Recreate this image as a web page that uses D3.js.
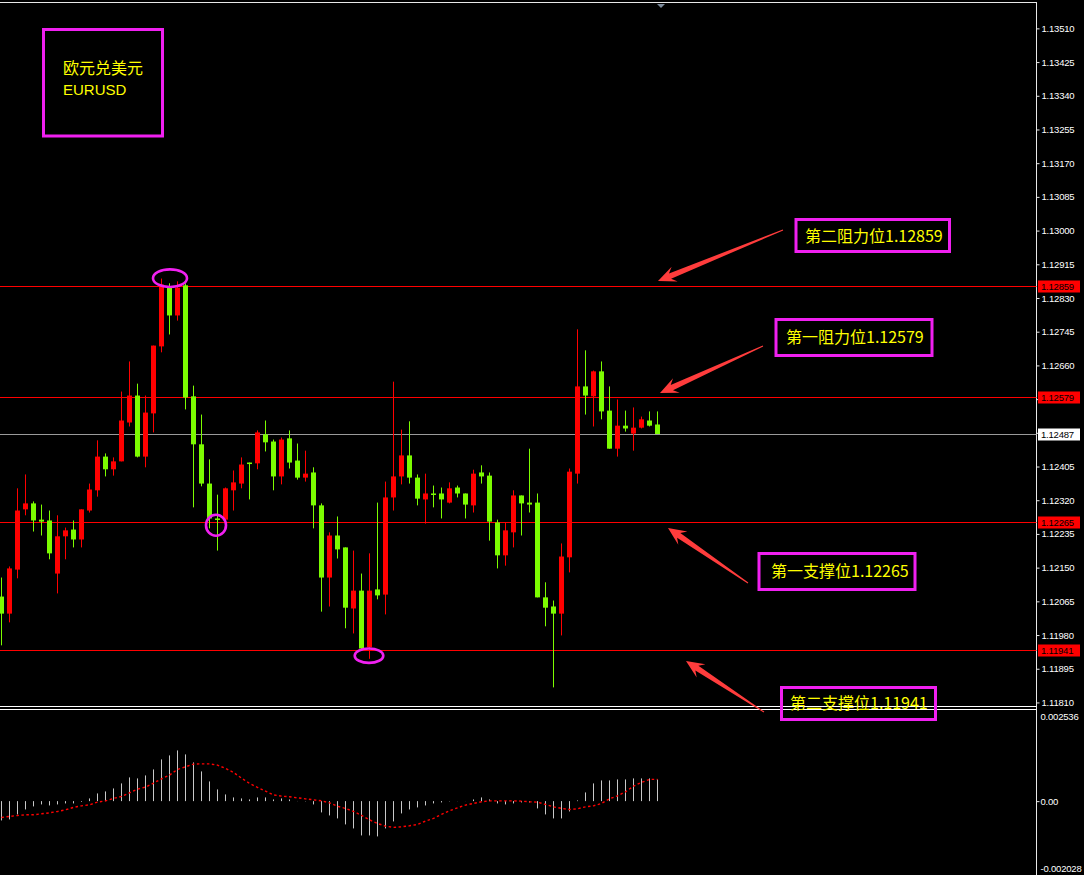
<!DOCTYPE html>
<html>
<head>
<meta charset="utf-8">
<title>EURUSD</title>
<script src="https://cdn.jsdelivr.net/npm/d3@7"></script>
<style>
  html, body { margin: 0; padding: 0; background: #000; }
  svg { display: block; }
</style>
</head>
<body>
<svg id="chart" width="1084" height="875"></svg>
<script>
// ---- EURUSD candles (oldest to newest) ----
const opens = [1.12077,1.12034,1.12145,1.12297,1.12312,1.12271,1.12269,1.12135,1.12229,1.12246,
1.12221,1.12294,1.12345,1.12430,1.12398,1.12418,1.12516,1.12584,1.12430,1.12539,
1.12708,1.12859,1.12786,1.12862,1.12582,1.12461,1.12362,1.12274,1.12271,1.12345,
1.12362,1.12415,1.12413,1.12486,1.12468,1.12380,1.12476,1.12420,1.12377,1.12390,
1.12307,1.12125,1.12231,1.12201,1.12047,1.12092,1.11949,1.12095,1.12082,1.12327,
1.12380,1.12433,1.12377,1.12322,1.12337,1.12337,1.12314,1.12352,1.12337,1.12307,
1.12390,1.12382,1.12264,1.12181,1.12239,1.12332,1.12314,1.12314,1.12075,1.12052,
1.12034,1.12176,1.12387,1.12607,1.12582,1.12645,1.12546,1.12450,1.12508,1.12488,
1.12503,1.12521,1.12511];

const highs = [1.12125,1.12153,1.12350,1.12385,1.12317,1.12309,1.12294,1.12282,1.12251,1.12269,
1.12297,1.12362,1.12471,1.12438,1.12428,1.12594,1.12670,1.12614,1.12584,1.12710,
1.12879,1.12867,1.12872,1.12867,1.12609,1.12536,1.12423,1.12334,1.12352,1.12395,
1.12428,1.12415,1.12496,1.12521,1.12473,1.12478,1.12496,1.12463,1.12445,1.12403,
1.12312,1.12239,1.12279,1.12201,1.12193,1.12135,1.12186,1.12314,1.12367,1.12619,
1.12498,1.12519,1.12385,1.12387,1.12357,1.12352,1.12365,1.12357,1.12337,1.12397,
1.12408,1.12390,1.12271,1.12264,1.12345,1.12332,1.12450,1.12337,1.12113,1.12067,
1.12211,1.12400,1.12751,1.12698,1.12647,1.12670,1.12607,1.12574,1.12546,1.12554,
1.12531,1.12544,1.12544];

const lows = [1.11954,1.12012,1.12123,1.12282,1.12241,1.12231,1.12171,1.12085,1.12171,1.12201,
1.12201,1.12289,1.12329,1.12380,1.12382,1.12418,1.12506,1.12428,1.12403,1.12491,
1.12693,1.12738,1.12773,1.12549,1.12302,1.12355,1.12249,1.12193,1.12269,1.12294,
1.12350,1.12322,1.12398,1.12443,1.12345,1.12360,1.12400,1.12372,1.12367,1.12249,
1.12039,1.12052,1.12173,1.11997,1.11984,1.11941,1.11920,1.12070,1.12032,1.12294,
1.12360,1.12362,1.12307,1.12261,1.12302,1.12274,1.12312,1.12327,1.12274,1.12289,
1.12362,1.12218,1.12148,1.12155,1.12201,1.12231,1.12289,1.12075,1.12002,1.11848,
1.11979,1.12138,1.12362,1.12536,1.12506,1.12524,1.12450,1.12430,1.12493,1.12445,
1.12501,1.12506,1.12487];

const closes = [1.12034,1.12148,1.12294,1.12312,1.12269,1.12266,1.12186,1.12229,1.12244,1.12221,
1.12297,1.12347,1.12430,1.12398,1.12418,1.12521,1.12584,1.12430,1.12541,1.12710,
1.12864,1.12786,1.12856,1.12579,1.12461,1.12362,1.12274,1.12271,1.12350,1.12365,
1.12410,1.12413,1.12491,1.12466,1.12380,1.12473,1.12415,1.12377,1.12387,1.12307,
1.12125,1.12231,1.12196,1.12049,1.12092,1.11946,1.12092,1.12080,1.12327,1.12380,
1.12433,1.12377,1.12324,1.12337,1.12334,1.12322,1.12350,1.12337,1.12309,1.12387,
1.12380,1.12266,1.12181,1.12244,1.12332,1.12312,1.12309,1.12075,1.12049,1.12034,
1.12178,1.12392,1.12607,1.12584,1.12645,1.12544,1.12450,1.12508,1.12501,1.12503,
1.12524,1.12508,1.12487];

// ---- MACD sub-window ----
const macdHist = [-0.000537,-0.000509,-0.000370,-0.000231,-0.000147,-0.000092,-0.000120,-0.000092,-0.000064,-0.000064,
-0.000019,0.000075,0.000214,0.000270,0.000353,0.000493,0.000660,0.000632,0.000715,0.000882,
0.001161,0.001272,0.001411,0.001300,0.001077,0.000827,0.000548,0.000326,0.000186,0.000103,
0.000075,0.000047,0.000103,0.000103,0.000047,0.000075,0.000047,0.000004,-0.000008,-0.000092,
-0.000314,-0.000398,-0.000481,-0.000648,-0.000760,-0.000955,-0.000955,-0.000982,-0.000760,-0.000565,
-0.000342,-0.000231,-0.000175,-0.000120,-0.000064,-0.000036,-0.000008,0.000003,0.000002,0.000047,
0.000103,0.000047,-0.000064,-0.000092,-0.000064,-0.000036,-0.000036,-0.000203,-0.000370,-0.000481,
-0.000481,-0.000287,0.000019,0.000242,0.000493,0.000576,0.000576,0.000604,0.000604,0.000632,
0.000632,0.000632,0.000604];

const macdSignal = [-0.000454,-0.000426,-0.000398,-0.000381,-0.000381,-0.000353,-0.000326,-0.000287,-0.000242,-0.000175,
-0.000131,-0.000103,-0.000028,0.000008,0.000075,0.000131,0.000231,0.000334,0.000390,0.000501,
0.000621,0.000724,0.000882,0.000955,0.001030,0.001038,0.001038,0.001002,0.000910,0.000799,
0.000640,0.000493,0.000381,0.000278,0.000175,0.000139,0.000120,0.000092,0.000064,0.000036,
0.000008,-0.000047,-0.000145,-0.000203,-0.000287,-0.000398,-0.000520,-0.000621,-0.000696,-0.000732,
-0.000715,-0.000687,-0.000648,-0.000557,-0.000481,-0.000370,-0.000270,-0.000186,-0.000111,-0.000064,
-0.000019,0.000008,0.000008,0.000008,0.000008,0.000000,-0.000019,-0.000028,-0.000092,-0.000159,
-0.000203,-0.000231,-0.000214,-0.000159,-0.000131,-0.000064,0.000064,0.000147,0.000259,0.000417,
0.000520,0.000604,0.000604];

// ---- axis ticks and key levels ----
const priceTicks = [1.13510,1.13425,1.13340,1.13255,1.13170,1.13085,1.13000,1.12915,1.12830,1.12745,
1.12660,1.12575,1.12490,1.12405,1.12320,1.12235,1.12150,1.12065,1.11980,1.11895,1.11810];
const macdTicks = [0.002536, 0, -0.002028];
const macdTickLabels = ["0.002536", "0.00", "-0.002028"];

const levelValues = [1.12859, 1.12579, 1.12265, 1.11941];
const levelNames = ["第二阻力位", "第一阻力位", "第一支撑位", "第二支撑位"];
const lastPrice = 1.12487;
const titleLines = ["欧元兑美元", "EURUSD"];
// turning points that are circled: [bar index, price]
const markedPoints = [[21, 1.12880], [27, 1.12257], [46, 1.11928]];

// ---------------------------------------------------------------
const svg = d3.select("#chart");
const W = 1084, H = 875;
const axisX = 1036.5;

svg.append("rect").attr("width", W).attr("height", H).attr("fill", "#000");

const x = d3.scaleLinear().domain([0, opens.length - 1]).range([1.5, 1.5 + 8 * (opens.length - 1)]);
const y = d3.scaleLinear().domain([1.12859, 1.11941]).range([286.5, 650.5]);
const my = d3.scaleLinear().domain([0.002536, -0.002028]).range([710, 874]);

const crisp = v => Math.round(v - 0.5) + 0.5;

// frame
svg.append("line").attr("x1", 0).attr("x2", axisX).attr("y1", 2.5).attr("y2", 2.5)
  .attr("stroke", "#e8e8e8").attr("stroke-width", 1);
svg.append("line").attr("x1", axisX).attr("x2", axisX).attr("y1", 2).attr("y2", H)
  .attr("stroke", "#e8e8e8").attr("stroke-width", 1);
[706.5, 709.5].forEach(yy => svg.append("line").attr("x1", 0).attr("x2", axisX)
  .attr("y1", yy).attr("y2", yy).attr("stroke", "#ffffff").attr("stroke-width", 1));

// shift marker at the top
svg.append("path").attr("d", "M657,4 L665,4 L661,8 Z").attr("fill", "#7d8b9c");

// horizontal level lines
const levelG = svg.append("g");
levelG.append("line").attr("x1", 0).attr("x2", axisX)
  .attr("y1", crisp(y(lastPrice))).attr("y2", crisp(y(lastPrice)))
  .attr("stroke", "#9a9a9a").attr("stroke-width", 1);
levelG.selectAll("line.lv").data(levelValues).join("line").attr("class", "lv")
  .attr("x1", 0).attr("x2", axisX)
  .attr("y1", d => crisp(y(d))).attr("y2", d => crisp(y(d)))
  .attr("stroke", "#ff0000").attr("stroke-width", 1);

// candles
const idx = d3.range(opens.length);
const upColor = "#ff0000", downColor = "#7cfc00";
const col = i => closes[i] > opens[i] ? upColor : downColor;
const cG = svg.append("g");
cG.selectAll("line.wick").data(idx).join("line").attr("class", "wick")
  .attr("x1", i => x(i)).attr("x2", i => x(i))
  .attr("y1", i => y(highs[i])).attr("y2", i => y(lows[i]))
  .attr("stroke", col).attr("stroke-width", 1);
cG.selectAll("rect.body").data(idx).join("rect").attr("class", "body")
  .attr("x", i => x(i) - 2.5).attr("width", 5)
  .attr("y", i => Math.min(y(opens[i]), y(closes[i])))
  .attr("height", i => Math.max(1.5, Math.abs(y(opens[i]) - y(closes[i]))))
  .attr("fill", col);

// price axis
const axisFont = "'Liberation Sans', Arial, sans-serif";
const pAxis = d3.axisRight(y).tickValues(priceTicks).tickSize(3).tickPadding(2)
  .tickFormat(d3.format(".5f"));
const pa = svg.append("g").attr("transform", `translate(${axisX},0)`).call(pAxis);
pa.select(".domain").remove();
pa.selectAll(".tick line").attr("stroke", "#e8e8e8");
pa.selectAll(".tick text").attr("fill", "#ffffff")
  .style("font-family", axisFont).style("font-size", "9.5px").style("letter-spacing", "-0.2px");

// price tags on the axis
function tag(v, bg) {
  const g = svg.append("g").attr("transform", `translate(1038,${crisp(y(v))})`);
  g.append("rect").attr("x", 0).attr("y", -6).attr("width", 42).attr("height", 12).attr("fill", bg);
  g.append("text").attr("x", 3).attr("y", 0).attr("dy", "0.35em").text(d3.format(".5f")(v))
    .attr("fill", "#000")
    .style("font-family", axisFont).style("font-size", "9.5px").style("letter-spacing", "-0.2px");
}
levelValues.forEach(v => tag(v, "#ff0000"));
tag(lastPrice, "#ffffff");

// MACD histogram and signal line
const mG = svg.append("g");
mG.selectAll("line.hist").data(idx).join("line").attr("class", "hist")
  .attr("x1", i => x(i)).attr("x2", i => x(i))
  .attr("y1", my(0)).attr("y2", i => my(macdHist[i]))
  .attr("stroke", "#c8c8c8").attr("stroke-width", 1);
mG.append("path").datum(idx)
  .attr("d", d3.line().x(i => x(i)).y(i => my(macdSignal[i])))
  .attr("fill", "none").attr("stroke", "#ff0000").attr("stroke-width", 1.4)
  .attr("stroke-dasharray", "2.5,2.5");

// MACD axis
const mAxis = d3.axisRight(my).tickValues(macdTicks).tickSize(3).tickPadding(1)
  .tickFormat((d, i) => macdTickLabels[i]);
const ma = svg.append("g").attr("transform", `translate(${axisX},0)`).call(mAxis);
ma.select(".domain").remove();
ma.selectAll(".tick line").attr("stroke", "#e8e8e8");
ma.selectAll(".tick text").attr("fill", "#ffffff")
  .style("font-family", axisFont).style("font-size", "9.5px").style("letter-spacing", "-0.2px")
  .attr("y", (d, i) => i === 0 ? 6 : (i === 2 ? -6 : 0));
ma.selectAll(".tick line").filter((d, i) => i !== 1).remove();

// ---- annotations ----
const magenta = "#f020f0", yellow = "#ffff00";
const cjk = "'Noto Sans CJK SC', 'Noto Sans', sans-serif";
const ann = svg.append("g");

// title box
ann.append("rect").attr("x", 43.5).attr("y", 29.5).attr("width", 119).attr("height", 106.5)
  .attr("fill", "none").attr("stroke", magenta).attr("stroke-width", 3);
ann.append("text").attr("x", 63).attr("y", 74).text(titleLines[0])
  .attr("fill", yellow).style("font-family", cjk).style("font-size", "16px");
ann.append("text").attr("x", 63).attr("y", 95).text(titleLines[1])
  .attr("fill", yellow).style("font-family", "'Liberation Sans', Arial, sans-serif").style("font-size", "15px");

// circled turning points
const ringSize = [[17, 8.8, 0.5], [10, 10.5, -1.5], [14.3, 7.2, -0.5]];
markedPoints.forEach(([i, v], k) => ann.append("ellipse")
  .attr("cx", x(i) + ringSize[k][2]).attr("cy", y(v))
  .attr("rx", ringSize[k][0]).attr("ry", ringSize[k][1])
  .attr("fill", "none").attr("stroke", magenta).attr("stroke-width", 2.6));

// level callouts: box, text and arrow pointing at each line
const boxes = [
  { x: 796, y: 219.5, w: 153.5, h: 32, tx: 805, ty: 241.5, tail: [783, 230], tip: [658, 281] },
  { x: 776, y: 319.5, w: 156, h: 36, tx: 786, ty: 342.5, tail: [763, 346], tip: [660, 393] },
  { x: 759, y: 553.5, w: 156, h: 36, tx: 771, ty: 576.5, tail: [748, 583], tip: [668, 528] },
  { x: 781.5, y: 687.5, w: 154, h: 32, tx: 790, ty: 708.5, tail: [764, 712], tip: [686, 661] }
];

function arrowPoints(t, p) {
  const dx = p[0] - t[0], dy = p[1] - t[1], L = Math.hypot(dx, dy);
  const ux = dx / L, uy = dy / L, nx = -uy, ny = ux;
  const at = (a, b) => [p[0] - ux * a + nx * b, p[1] - uy * a + ny * b];
  return [[t[0] + nx * 0.5, t[1] + ny * 0.5], at(13, 2.8), at(18, 8), p, at(18, -8), at(13, -2.8),
          [t[0] - nx * 0.5, t[1] - ny * 0.5]];
}

boxes.forEach((b, i) => {
  ann.append("polygon").attr("points", arrowPoints(b.tail, b.tip).map(q => q.join(",")).join(" "))
    .attr("fill", "#ff3c3c");
  ann.append("rect").attr("x", b.x).attr("y", b.y).attr("width", b.w).attr("height", b.h)
    .attr("fill", "none").attr("stroke", magenta).attr("stroke-width", 3);
  ann.append("text").attr("x", b.tx).attr("y", b.ty)
    .text(levelNames[i] + d3.format(".5f")(levelValues[i]))
    .attr("fill", yellow).style("font-family", cjk).style("font-size", "16px");
});
</script>
</body>
</html>
